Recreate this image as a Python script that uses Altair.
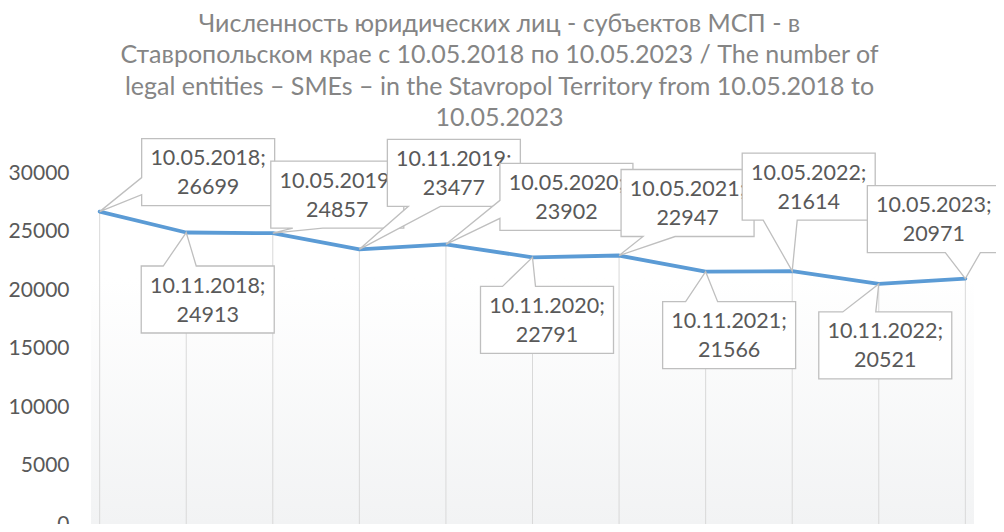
import altair as alt
import pandas as pd

# ---------------- data ----------------
dates = ["10.05.2018", "10.11.2018", "10.05.2019", "10.11.2019", "10.05.2020",
         "10.11.2020", "10.05.2021", "10.11.2021", "10.05.2022", "10.11.2022",
         "10.05.2023"]
values = [26699, 24913, 24857, 23477, 23902, 22791, 22947, 21566, 21614, 20521, 20971]
y_ticks = [0, 5000, 10000, 15000, 20000, 25000, 30000]
title_lines = [
    "Численность юридических лиц - субъектов МСП - в",
    "Ставропольском крае с 10.05.2018 по 10.05.2023 / The number of",
    "legal entities – SMEs – in the Stavropol Territory from 10.05.2018 to",
    "10.05.2023",
]

# ---------------- layout ----------------
W, H = 883, 351
X_DOM = [-0.1, 10.1]
Y_DOM = [0, 30000]
PXX = W / (X_DOM[1] - X_DOM[0])
PXY = H / (Y_DOM[1] - Y_DOM[0])
BOX_W, BOX_H = 133, 67
# callout box top-left offsets (px) relative to its point
box_dx = [42, -45, -2, 28, 54, -52, 2, -43, -50, -60, -98]
box_dy = [-73, 33.5, -72, -110, -81, 29, -86, 30, -118, 28, -93]
wedge_side = ["left", "top", "bottom", "bottom", "left", "top", "bottom", "top",
              "bottom", "top", "bottom"]
wedge_a = [39, 22, 22, 21, 37, 22, 22, 23, 21, 24, 78]
wedge_b = [56, 55, 52, 53, 55, 55, 54, 55, 55, 57, 113]

FONT = "Lato"
LINE_COLOR = "#5B9BD5"
TEXT_COLOR = "#595959"

idx = list(range(len(values)))
pts_df = pd.DataFrame({"i": idx, "v": values, "date": dates})

poly_rows = []
text_rows = []
for i, v in enumerate(values):
    tx, ty = -box_dx[i], -box_dy[i]
    a, b = wedge_a[i], wedge_b[i]
    side = wedge_side[i]
    pts = [(0, 0)]
    if side == "top":
        pts += [(a, 0), (tx, ty), (b, 0)]
    pts += [(BOX_W, 0), (BOX_W, BOX_H)]
    if side == "bottom":
        pts += [(b, BOX_H), (tx, ty), (a, BOX_H)]
    pts += [(0, BOX_H)]
    if side == "left":
        pts += [(0, b), (tx, ty), (0, a)]
    for k, (px, py) in enumerate(pts):
        poly_rows.append({"id": i, "k": k,
                          "x": i + (box_dx[i] + px) / PXX,
                          "y": v - (box_dy[i] + py) / PXY})
    text_rows.append({"id": i,
                      "x": i + (box_dx[i] + BOX_W / 2) / PXX,
                      "y": v - (box_dy[i] + BOX_H / 2) / PXY,
                      "label": f"{dates[i]};\n{v}"})
poly_df = pd.DataFrame(poly_rows)
text_df = pd.DataFrame(text_rows)

xscale = alt.Scale(domain=X_DOM, nice=False, zero=False)
yscale = alt.Scale(domain=Y_DOM, nice=False, zero=False)
yaxis = alt.Axis(values=y_ticks, ticks=False, domain=False, grid=False,
                 labelFont=FONT, labelFontSize=21, labelColor=TEXT_COLOR,
                 labelPadding=22, title=None, format="d")


def X(field):
    return alt.X(field, type="quantitative", scale=xscale, axis=None)


def Y(field):
    return alt.Y(field, type="quantitative", scale=yscale, axis=yaxis)


bg = alt.Chart(pts_df).mark_rect(
    fill=alt.Gradient(gradient="linear",
                      stops=[alt.GradientStop(color="#ffffff", offset=0),
                             alt.GradientStop(color="#ffffff", offset=0.3),
                             alt.GradientStop(color="#f2f3f4", offset=1)],
                      x1=0, x2=0, y1=0, y2=1)
).encode(x=alt.value(0), x2=alt.value(W), y=alt.value(0), y2=alt.value(H))

drops = alt.Chart(pts_df).mark_rule(color="#d9d9d9", strokeWidth=1).encode(
    x=X("i"), y=Y("v"), y2=alt.datum(0))

line = alt.Chart(pts_df).mark_line(color=LINE_COLOR, strokeWidth=3.8,
                                   strokeCap="round", strokeJoin="round").encode(
    x=X("i"), y=Y("v"))

layers = [bg, drops, line]
for i in idx:
    layers.append(
        alt.Chart(poly_df[poly_df.id == i]).mark_line(
            interpolate="linear-closed", fill="white", stroke="#bfbfbf",
            strokeWidth=1.3).encode(x=X("x"), y=Y("y"), order="k:Q"))
    layers.append(
        alt.Chart(text_df[text_df.id == i]).mark_text(
            font=FONT, fontSize=21.5, color=TEXT_COLOR, lineBreak="\n",
            lineHeight=29, align="center", baseline="middle", dy=-13).encode(
            x=X("x"), y=Y("y"), text="label:N"))

chart = alt.layer(*layers).properties(
    width=W, height=H,
    title=alt.TitleParams(text=title_lines, font=FONT, fontSize=25,
                          fontWeight="normal", color="#858585",
                          lineHeight=31.5, anchor="middle", dx=-33, offset=5),
    autosize=alt.AutoSizeParams(type="none"),
    padding={"left": 83, "top": 165, "right": 22, "bottom": 0},
).configure_view(stroke=None)

chart.save("out.html", embed_options={"renderer": "svg", "actions": False})
